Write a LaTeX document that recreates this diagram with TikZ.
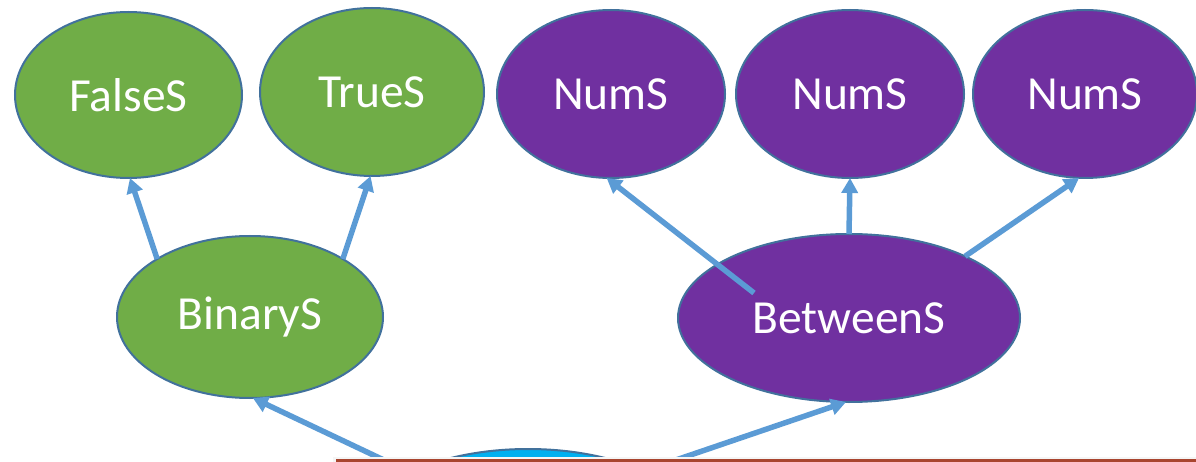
\documentclass[tikz,border=0pt]{standalone}
\usepackage{fontspec}
\setmainfont{Carlito}
\usetikzlibrary{arrows.meta,shapes.geometric}
\definecolor{gfill}{HTML}{70AD47}
\definecolor{pfill}{HTML}{7030A0}
\definecolor{edge}{HTML}{41719C}
\definecolor{arr}{HTML}{5B9BD5}
\definecolor{bfill}{HTML}{00B0F0}
\definecolor{rbord}{HTML}{A9452F}
\tikzset{
  oval/.style={ellipse, draw=edge, line width=2pt, inner sep=0pt, outer sep=0pt,
    text=white, font=\fontsize{47.5}{52}\selectfont},
  gnode/.style={oval, fill=gfill},
  pnode/.style={oval, fill=pfill},
  conn/.style={draw=arr, line width=5.5pt, -{Triangle[length=15pt,width=16pt]}},
}
\begin{document}
\begin{tikzpicture}[x=1pt,y=-1pt]
\useasboundingbox (0,0) rectangle (1196,462);
\begin{scope}
\clip (0,0) rectangle (1196,462);
% partially visible bottom shapes
\node[ellipse, draw=edge, line width=2pt, fill=bfill, minimum width=350pt, minimum height=176pt, inner sep=0pt] (root) at (528,537) {};
\coordinate (s1) at (388,462);
\coordinate (s2) at (670,462);

% nodes
\node[gnode, minimum width=227pt, minimum height=166pt] (false) at (128.5,95) {FalseS};
\node[gnode, minimum width=224pt, minimum height=168pt] (true) at (372,92) {TrueS};
\node[pnode, minimum width=228pt, minimum height=168pt] (num1) at (611,94) {NumS};
\node[pnode, minimum width=228pt, minimum height=168pt] (num2) at (850,94) {NumS};
\node[pnode, minimum width=224pt, minimum height=168pt] (num3) at (1085,94) {NumS};
\node[gnode, minimum width=266pt, minimum height=162pt] (bin) at (250,317) {BinaryS};
\node[pnode, minimum width=342pt, minimum height=168pt] (betw) at (849,318) {BetweenS};
\coordinate (b1) at (754,293);

% connectors
\draw[conn] (bin.148) -- (false.-89);
\draw[conn] (bin.32) -- (true.-91);
\draw[conn] (b1) -- (num1.-93);
\draw[conn] (betw.north) -- (num2.south);
\draw[conn] (betw.28) -- (num3.-94);
\draw[conn] (s1) -- (bin.-88);
\draw[conn] (s2) -- (betw.-92);

% bottom bordered box
\fill[black!4] (333,457) rectangle (1200,520);
\draw[rbord, line width=2.8pt, fill=white] (337,460.2) rectangle (1210,540);
\end{scope}
\end{tikzpicture}
\end{document}
